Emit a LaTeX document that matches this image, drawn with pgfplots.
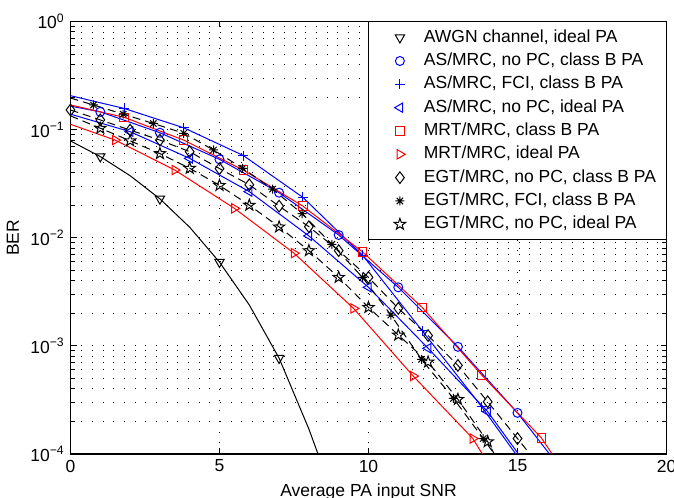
\documentclass[border=0pt]{standalone}
\usepackage{fontspec}
\setmainfont{Liberation Sans}
\usepackage{pgfplots}
\pgfplotsset{compat=1.18}
\newcommand\fs{\fontsize{10.5}{12.6}\selectfont}
\pgfdeclareplotmark{pentagram}{%
  \pgfpathmoveto{\pgfpointpolar{90}{\pgfplotmarksize}}%
  \pgfpathlineto{\pgfpointpolar{126}{0.4\pgfplotmarksize}}%
  \pgfpathlineto{\pgfpointpolar{162}{\pgfplotmarksize}}%
  \pgfpathlineto{\pgfpointpolar{198}{0.4\pgfplotmarksize}}%
  \pgfpathlineto{\pgfpointpolar{234}{\pgfplotmarksize}}%
  \pgfpathlineto{\pgfpointpolar{270}{0.4\pgfplotmarksize}}%
  \pgfpathlineto{\pgfpointpolar{306}{\pgfplotmarksize}}%
  \pgfpathlineto{\pgfpointpolar{342}{0.4\pgfplotmarksize}}%
  \pgfpathlineto{\pgfpointpolar{18}{\pgfplotmarksize}}%
  \pgfpathlineto{\pgfpointpolar{54}{0.4\pgfplotmarksize}}%
  \pgfpathclose\pgfusepathqstroke}
\pgfdeclareplotmark{matast}{%
  \pgfpathmoveto{\pgfqpoint{-\pgfplotmarksize}{0pt}}\pgfpathlineto{\pgfqpoint{\pgfplotmarksize}{0pt}}%
  \pgfpathmoveto{\pgfqpoint{0pt}{-\pgfplotmarksize}}\pgfpathlineto{\pgfqpoint{0pt}{\pgfplotmarksize}}%
  \pgfpathmoveto{\pgfqpoint{-.707\pgfplotmarksize}{-.707\pgfplotmarksize}}\pgfpathlineto{\pgfqpoint{.707\pgfplotmarksize}{.707\pgfplotmarksize}}%
  \pgfpathmoveto{\pgfqpoint{-.707\pgfplotmarksize}{.707\pgfplotmarksize}}\pgfpathlineto{\pgfqpoint{.707\pgfplotmarksize}{-.707\pgfplotmarksize}}%
  \pgfusepathqstroke}
\pgfplotsset{mylegend/.style={legend image code/.code={%
  \draw[##1] plot coordinates {(0pt,0pt)};
  \path[draw=none,fill=none] (-15pt,0pt) -- (8pt,0pt);}}}
\begin{document}
\begin{tikzpicture}
\useasboundingbox (-42.3pt,-26.4pt) rectangle (362.1pt,272.4pt);
\begin{axis}[
  at={(0,0)}, anchor=south west,
  scale only axis, width=357.6pt, height=259.5pt,
  xmin=0, xmax=20, ymode=log, ymin=1e-4, ymax=1,
  xtick={0,5,10,15,20}, xticklabels={0,5,10,15,20},
  ytick={1e-4,1e-3,1e-2,1e-1,1},
  yticklabels={10\textsuperscript{−4},10\textsuperscript{−3},10\textsuperscript{−2},10\textsuperscript{−1},10\textsuperscript{0}},
  minor ytick={2e-4,3e-4,4e-4,5e-4,6e-4,7e-4,8e-4,9e-4,2e-3,3e-3,4e-3,5e-3,6e-3,7e-3,8e-3,9e-3,2e-2,3e-2,4e-2,5e-2,6e-2,7e-2,8e-2,9e-2,2e-1,3e-1,4e-1,5e-1,6e-1,7e-1,8e-1,9e-1},
  xmajorgrids, ymajorgrids, yminorgrids,
  major grid style={black, line width=0.5pt, dash pattern=on 0.5pt off 5.9pt},
  minor grid style={black, line width=0.5pt, dash pattern=on 0.5pt off 5.9pt},
  tick align=inside, major tick length=3.6pt, minor tick length=2.6pt,
  tick style={black, line width=0.6pt},
  axis line style={line width=0.8pt},
  xlabel={Average PA input SNR}, ylabel={BER},
  tick label style={font=\fs}, label style={font=\fs},
  clip mode=individual,
  legend cell align=left,
  legend style={at={(1,1)}, anchor=north east, draw=black, line width=0.6pt, fill=white,
    font=\fs, inner xsep=4pt, inner ysep=2.4pt, row sep=0pt, column sep=4.4pt,
    nodes={inner sep=2pt, text height=7.8pt, text depth=2.2pt}},
  every axis plot/.append style={line width=0.6pt},
]
% ---------- lines ----------
\addplot[black, forget plot] coordinates {(0,0.0786)(1,0.0563)(2,0.0375)(3,0.0229)(4,0.0125)(5,0.00595)(6,0.00239)(7,7.7e-4)(8,1.7e-4)(9,3e-5)};
\addplot[blue, forget plot] coordinates {(0,0.165)(1,0.146)(3,0.0936)(5,0.0531)(7,0.0261)(9,0.0106)(11,0.00348)(13,9.8e-4)(15,2.4e-4)(17,4.7e-5)};
\addplot[blue, forget plot] coordinates {(0,0.206)(1.8,0.157)(3.8,0.104)(5.8,0.0576)(7.8,0.0236)(9.8,0.0069)(11.8,0.00138)(13.8,2.73e-4)(15,9.5e-5)};
\addplot[blue, forget plot] coordinates {(0,0.139)(2,0.0957)(4,0.0542)(6,0.0267)(8,0.0104)(10,0.00348)(12,9.5e-4)(14,2.46e-4)(16,4.3e-5)};
\addplot[red, forget plot] coordinates {(0,0.169)(1.8,0.130)(3.8,0.080)(5.8,0.0423)(7.8,0.0196)(9.8,0.0074)(11.8,0.00227)(13.8,5.37e-4)(15.8,1.41e-4)(17,4.5e-5)};
\addplot[red, forget plot] coordinates {(0,0.112)(1.5,0.080)(3.5,0.0423)(5.5,0.0187)(7.5,0.0072)(9.5,0.00222)(11.5,5.26e-4)(13.5,1.39e-4)(15,3e-5)};
\addplot[black, dash pattern=on 4.8pt off 3pt, forget plot] coordinates {(0,0.152)(1,0.123)(2,0.099)(3,0.080)(4,0.0625)(5,0.0436)(6,0.0309)(7,0.0196)(8,0.01265)(9,0.0076)(10,0.0043)(11,0.00222)(12,0.001245)(13,6.6e-4)(14,3.04e-4)(15,1.39e-4)(16,6.3e-5)};
\addplot[black, dash pattern=on 4.8pt off 3pt, forget plot] coordinates {(0,0.196)(0.77,0.169)(1.77,0.139)(2.78,0.114)(3.8,0.0925)(4.8,0.0648)(5.78,0.0439)(6.78,0.0282)(7.77,0.0167)(8.77,0.0087)(9.8,0.0043)(10.75,0.00193)(11.78,7.5e-4)(12.85,3.27e-4)(13.85,1.39e-4)(15,5e-5)};
\addplot[black, dash pattern=on 4.8pt off 3pt, forget plot] coordinates {(0,0.134)(1,0.103)(2,0.0789)(3,0.060)(4,0.0439)(5,0.0305)(6,0.020)(7,0.0126)(8,0.0076)(9,0.0043)(10,0.00227)(11,0.00126)(12,7.1e-4)(13,3.2e-4)(14,1.3e-4)(15,4e-5)};
% ---------- markers ----------
\addplot[black, only marks, mylegend, mark=triangle, mark size=3.2pt, mark options={rotate=180}] coordinates {(1,0.0563)(3,0.0229)(5,0.00595)(7,7.7e-4)};
\addlegendentry{AWGN channel, ideal PA}
\addplot[blue, only marks, mylegend, mark=o, mark size=2.7pt] coordinates {(1,0.146)(3,0.0936)(5,0.0531)(7,0.0261)(9,0.0106)(11,0.00348)(13,9.8e-4)(15,2.4e-4)};
\addlegendentry{AS/MRC, no PC, class B PA}
\addplot[blue, only marks, mylegend, mark=+, mark size=3pt] coordinates {(1.8,0.157)(3.8,0.104)(5.8,0.0576)(7.8,0.0236)(9.8,0.0069)(11.8,0.00138)(13.8,2.73e-4)};
\addlegendentry{AS/MRC, FCI, class B PA}
\addplot[blue, only marks, mylegend, mark=triangle, mark size=3.2pt, mark options={rotate=90}] coordinates {(2,0.0957)(4,0.0542)(6,0.0267)(8,0.0104)(10,0.00348)(12,9.5e-4)(14,2.46e-4)};
\addlegendentry{AS/MRC, no PC, ideal PA}
\addplot[red, only marks, mylegend, mark=square, mark size=2.5pt] coordinates {(1.8,0.130)(3.8,0.080)(5.8,0.0423)(7.8,0.0196)(9.8,0.0074)(11.8,0.00227)(13.8,5.37e-4)(15.8,1.41e-4)};
\addlegendentry{MRT/MRC, class B PA}
\addplot[red, only marks, mylegend, mark=triangle, mark size=3.2pt, mark options={rotate=-90}] coordinates {(1.5,0.080)(3.5,0.0423)(5.5,0.0187)(7.5,0.0072)(9.5,0.00222)(11.5,5.26e-4)(13.5,1.39e-4)};
\addlegendentry{MRT/MRC, ideal PA}
\addplot[black, only marks, mylegend, mark=diamond, mark size=3.5pt] coordinates {(0,0.152)(1,0.123)(2,0.099)(3,0.080)(4,0.0625)(5,0.0436)(6,0.0309)(7,0.0196)(8,0.01265)(9,0.0076)(10,0.0043)(11,0.00222)(12,0.001245)(13,6.6e-4)(14,3.04e-4)(15,1.39e-4)};
\addlegendentry{EGT/MRC, no PC, class B PA}
\addplot[black, only marks, mylegend, mark=matast, mark size=2.7pt] coordinates {(0.77,0.169)(1.77,0.139)(2.78,0.114)(3.8,0.0925)(4.8,0.0648)(5.78,0.0439)(6.78,0.0282)(7.77,0.0167)(8.77,0.0087)(9.8,0.0043)(10.75,0.00193)(11.78,7.5e-4)(12.85,3.27e-4)(13.85,1.39e-4)};
\addlegendentry{EGT/MRC, FCI, class B PA}
\addplot[black, only marks, mylegend, mark=pentagram, mark size=3.6pt] coordinates {(1,0.103)(2,0.0789)(3,0.060)(4,0.0439)(5,0.0305)(6,0.020)(7,0.0126)(8,0.0076)(9,0.0043)(10,0.00227)(11,0.00126)(12,7.1e-4)(13,3.2e-4)(14,1.3e-4)};
\addlegendentry{EGT/MRC, no PC, ideal PA}
\end{axis}
\end{tikzpicture}
\end{document}
